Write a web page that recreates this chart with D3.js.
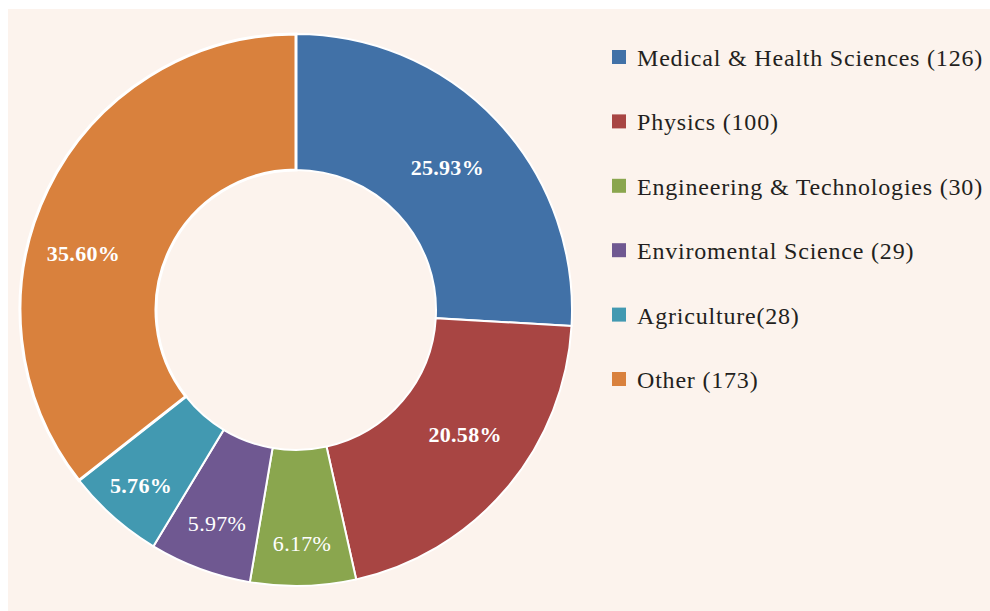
<!DOCTYPE html>
<html>
<head>
<meta charset="utf-8">
<script src="https://cdn.jsdelivr.net/npm/d3@7"></script>
<style>
  body { margin: 0; background: #ffffff; }
  svg { display: block; }
</style>
</head>
<body>
<div id="chart"></div>
<script>
// Data
const categories = ["Medical & Health Sciences", "Physics", "Engineering & Technologies", "Enviromental Science", "Agriculture", "Other"];
const legendLabels = ["Medical & Health Sciences (126)", "Physics (100)", "Engineering & Technologies (30)", "Enviromental Science (29)", "Agriculture(28)", "Other (173)"];
const counts = [126, 100, 30, 29, 28, 173];
const colors = ["#4171a7", "#a84543", "#8aa64e", "#6f5891", "#4299b1", "#d9813d"];
const boldLabel = [true, true, false, false, true, true];
// label placement tweaks (radius, angle offset in degrees)
const labelRadius = [208, 210, 233, 227, 234, 220];
const labelAngleShift = [0, -4, 0, 0, 0, -11];

const width = 990, height = 611;
const cx = 296, cy = 310;
const outerR = 276, innerR = 140;

const svg = d3.select("#chart")
  .append("svg")
  .attr("width", width)
  .attr("height", height);

svg.append("rect")
  .attr("x", 8).attr("y", 9)
  .attr("width", width - 8).attr("height", height - 9)
  .attr("fill", "#fcf3ed");

const data = categories.map((c, i) => ({ name: c, value: counts[i], i }));
const total = d3.sum(counts);

const pie = d3.pie().value(d => d.value).sort(null);
const arc = d3.arc().innerRadius(innerR).outerRadius(outerR);
const arcs = pie(data);

const g = svg.append("g").attr("transform", `translate(${cx},${cy})`);

g.selectAll(".slice")
  .data(arcs)
  .enter()
  .append("path")
  .attr("class", "slice")
  .attr("d", arc)
  .attr("fill", d => colors[d.data.i])
  .attr("stroke", "#ffffff")
  .attr("stroke-width", d => d.data.name === "Other" ? 3 : 2)
  .attr("stroke-linejoin", "miter");

// Percentage labels
g.selectAll(".pct")
  .data(arcs)
  .enter()
  .append("text")
  .attr("class", "pct")
  .attr("transform", d => {
    const a = (d.startAngle + d.endAngle) / 2 + labelAngleShift[d.data.i] * Math.PI / 180;
    const r = labelRadius[d.data.i];
    return `translate(${Math.sin(a) * r},${-Math.cos(a) * r})`;
  })
  .attr("dy", "0.35em")
  .attr("text-anchor", "middle")
  .attr("fill", "#ffffff")
  .attr("font-family", "'Liberation Serif', 'DejaVu Serif', serif")
  .attr("font-size", 22)
  .attr("letter-spacing", 0.3)
  .attr("font-weight", d => boldLabel[d.data.i] ? "bold" : "normal")
  .text(d => (d.data.value / total * 100).toFixed(2) + "%");

// Legend
const legend = svg.append("g").attr("transform", "translate(612,50)");
const row = legend.selectAll(".row")
  .data(legendLabels)
  .enter()
  .append("g")
  .attr("class", "row")
  .attr("transform", (d, i) => `translate(0,${i * 64.4})`);

row.append("rect")
  .attr("width", 14).attr("height", 14)
  .attr("fill", (d, i) => colors[i]);

row.append("text")
  .attr("x", 25)
  .attr("y", 16)
  .attr("fill", "#231f20")
  .attr("font-family", "'Liberation Serif', 'DejaVu Serif', serif")
  .attr("font-size", 24)
  .attr("letter-spacing", 0.8)
  .text(d => d);
</script>
</body>
</html>
